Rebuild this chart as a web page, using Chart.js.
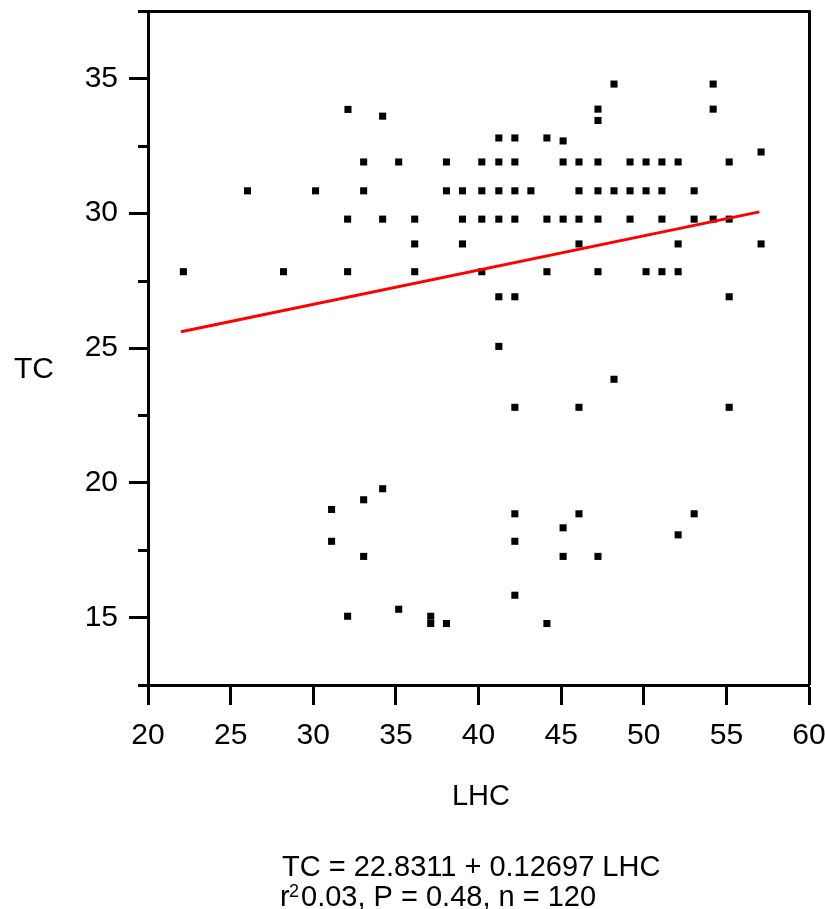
<!DOCTYPE html>
<html>
<head>
<meta charset="utf-8">
<title>TC vs LHC</title>
<script src="https://cdn.jsdelivr.net/npm/chart.js@4"></script>
<style>
  html, body { margin: 0; padding: 0; background: #fff; }
  canvas { display: block; }
</style>
</head>
<body>
<canvas id="tc_lhc_chart" width="825" height="909"></canvas>
<script>
// values
const lhc = [
    32.1, 34.2,
    33.05, 35.17, 38.06,
    26.02, 30.14, 33.05, 38.06, 39.03,
    32.08, 34.2, 36.14, 39.03,
    36.14, 39.03,
    22.14, 28.2, 32.08, 36.14,
    48.2, 54.2, 47.23, 54.2, 47.23,
    41.23, 42.2, 44.14, 45.12, 57.1,
    40.2, 41.23, 42.2, 45.12, 46.08, 47.23, 49.17, 50.14, 51.1, 52.08, 55.17,
    40.2, 41.23, 42.2, 43.17, 46.08, 47.23, 48.2, 49.17, 50.14, 51.1, 53.05,
    40.2, 41.23, 42.2, 44.14, 45.12, 46.08, 47.23, 49.17, 51.1, 53.05, 54.2, 55.17,
    46.08, 52.08, 57.1,
    40.2, 44.14, 47.23, 50.14, 51.1, 52.08,
    41.23, 42.2, 55.17,
    41.23,
    48.2,
    42.2, 46.08, 55.17,
    42.2, 46.08, 53.05,
    45.12, 52.08, 42.2, 45.12, 47.23, 42.2, 44.14,
    34.2, 33.05, 31.11, 31.11, 33.05, 32.08, 35.17, 37.11, 37.11, 38.06
];
const tc = [
    33.85, 33.6,
    31.9, 31.9, 31.9,
    30.83, 30.83, 30.83, 30.83, 30.83,
    29.78, 29.78, 29.78, 29.78,
    28.86, 28.86,
    27.83, 27.83, 27.83, 27.83,
    34.79, 34.79, 33.86, 33.86, 33.44,
    32.79, 32.79, 32.79, 32.68, 32.27,
    31.9, 31.9, 31.9, 31.9, 31.9, 31.9, 31.9, 31.9, 31.9, 31.9, 31.9,
    30.83, 30.83, 30.83, 30.83, 30.83, 30.83, 30.83, 30.83, 30.83, 30.83, 30.83,
    29.78, 29.78, 29.78, 29.78, 29.78, 29.78, 29.78, 29.78, 29.78, 29.78, 29.78, 29.78,
    28.86, 28.86, 28.86,
    27.83, 27.83, 27.83, 27.83, 27.83, 27.83,
    26.9, 26.9, 26.9,
    25.06,
    23.84,
    22.8, 22.8, 22.8,
    18.85, 18.85, 18.85,
    18.33, 18.07, 17.83, 17.27, 17.27, 15.83, 14.78,
    19.78, 19.37, 19.01, 17.83, 17.27, 15.05, 15.31, 15.05, 14.78, 14.78
];

// fitted line end points
const fit_lhc = [22.0, 57.0];
const fit_tc = [25.6, 30.05];

const x_ticks = [20, 25, 30, 35, 40, 45, 50, 55, 60];
const y_ticks = [15, 20, 25, 30, 35];
const y_minor_ticks = [12.5, 17.5, 22.5, 27.5, 32.5, 37.5];

const footer_line_1 = "TC = 22.8311 + 0.12697 LHC";
const footer_line_2 = ["r", "2", "0.03, P = 0.48, n = 120"];

const font_family = "'Liberation Sans', Arial, Helvetica, sans-serif";

// frame, minor ticks and the texts that chart.js cannot place itself
const extras_plugin = {
    id: "extras",
    afterDraw(chart)
    {
        const ctx = chart.ctx;
        const area = chart.chartArea;
        const y = chart.scales.y;

        ctx.save();
        ctx.strokeStyle = "#000";
        ctx.lineWidth = 3;
        ctx.beginPath();
        ctx.moveTo(area.left, area.top + 0.5);
        ctx.lineTo(area.right + 1.5, area.top + 0.5);
        ctx.moveTo(area.right + 0.5, area.top);
        ctx.lineTo(area.right + 0.5, area.bottom);
        y_minor_ticks.forEach(v =>
        {
            const py = Math.round(y.getPixelForValue(v)) + 0.5;
            ctx.moveTo(area.left - 10, py);
            ctx.lineTo(area.left + 1, py);
        });
        ctx.stroke();

        ctx.fillStyle = "#000";
        ctx.textBaseline = "alphabetic";
        ctx.font = "30px " + font_family;
        ctx.textAlign = "left";
        ctx.fillText("TC", 14, 378);

        ctx.font = "29px " + font_family;
        ctx.textAlign = "center";
        ctx.fillText("LHC", 481, 805);

        ctx.textAlign = "left";
        ctx.fillText(footer_line_1, 282, 876);

        ctx.fillText(footer_line_2[0], 280, 906);
        ctx.font = "18px " + font_family;
        ctx.fillText(footer_line_2[1], 289, 897);
        ctx.font = "29px " + font_family;
        ctx.fillText(footer_line_2[2], 301, 906);
        ctx.restore();
    }
};

const tc_lhc_chart = new Chart("tc_lhc_chart",
{
    data:
    {
        datasets:
        [
            {
                type: "line",
                label: "fit",
                data: fit_lhc.map((v, i) => ({ x: v, y: fit_tc[i] })),
                borderColor: "rgb(255, 0, 0)",
                borderWidth: 3,
                pointRadius: 0,
                fill: false,
                order: 0
            },
            {
                type: "scatter",
                label: "TC",
                data: lhc.map((v, i) => ({ x: v, y: tc[i] })),
                pointStyle: "rect",
                pointRadius: 5,
                borderWidth: 0,
                backgroundColor: "#000",
                order: 1
            }
        ]
    },
    options:
    {
        responsive: false,
        animation: false,
        layout:
        {
            padding: { top: 11, right: 16, left: 0, bottom: 0 }
        },
        plugins:
        {
            legend: { display: false },
            tooltip: { enabled: false }
        },
        scales:
        {
            x:
            {
                type: "linear",
                min: 20,
                max: 60,
                afterBuildTicks: scale => { scale.ticks = x_ticks.map(v => ({ value: v })); },
                afterFit: scale =>
                {
                    scale.height = 224;
                    scale.paddingLeft = 0;
                    scale.paddingRight = 0;
                },
                ticks:
                {
                    color: "#000",
                    padding: 13,
                    maxRotation: 0,
                    font: { family: font_family, size: 30 }
                },
                grid:
                {
                    drawOnChartArea: false,
                    drawTicks: true,
                    tickLength: 20,
                    tickWidth: 3,
                    tickColor: "#000"
                },
                border: { display: true, width: 3, color: "#000" }
            },
            y:
            {
                type: "linear",
                min: 12.5,
                max: 37.5,
                afterBuildTicks: scale => { scale.ticks = y_ticks.map(v => ({ value: v })); },
                afterFit: scale =>
                {
                    scale.width = 148;
                    scale.paddingTop = 0;
                    scale.paddingBottom = 0;
                },
                ticks:
                {
                    color: "#000",
                    padding: 11,
                    font: { family: font_family, size: 30 }
                },
                grid:
                {
                    drawOnChartArea: false,
                    drawTicks: true,
                    tickLength: 19,
                    tickWidth: 3,
                    tickColor: "#000"
                },
                border: { display: true, width: 3, color: "#000" }
            }
        }
    },
    plugins: [extras_plugin]
});
</script>
</body>
</html>
